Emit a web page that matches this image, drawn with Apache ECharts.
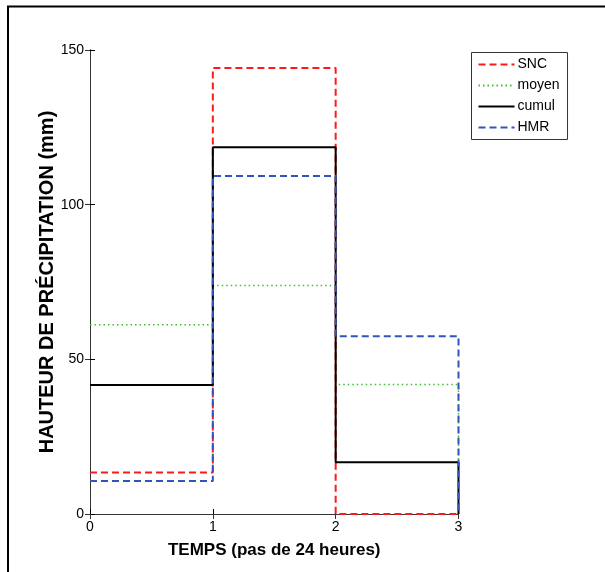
<!DOCTYPE html>
<html>
<head>
<meta charset="utf-8">
<script src="https://cdn.jsdelivr.net/npm/echarts@6/dist/echarts.min.js"></script>
<style>
html,body{margin:0;padding:0;background:#fff;}
#chart{width:605px;height:572px;}
</style>
</head>
<body>
<div id="chart"></div>
<script>
// Data (stairs: value held from step i to step i+1)
const steps = [0, 1, 2, 3];
const snc   = [13.4, 144.2, 0, 0];
const moyen = [61.2, 73.9, 41.9, 0];
const cumul = [41.7, 118.6, 16.7, 0];
const hmr   = [10.7, 109.3, 57.5, 0];
const seriesNames = ['SNC', 'moyen', 'cumul', 'HMR'];
const xTicks = [0, 1, 2, 3];
const yTicks = [0, 50, 100, 150];
const xTitle = 'TEMPS (pas de 24 heures)';
const yTitle = 'HAUTEUR DE PRÉCIPITATION (mm)';

const pairs = arr => steps.map((s, i) => [s, arr[i]]);
const FONT = '"Liberation Sans", Arial, sans-serif';

const chart = echarts.init(document.getElementById('chart'), null, {renderer: 'canvas'});

function mkSeries(name, data, color, width, dash) {
  return {
    name: name, type: 'line', step: 'end', data: pairs(data),
    symbol: 'none', showSymbol: false, animation: false,
    lineStyle: {color: color, width: width, type: dash},
    itemStyle: {color: color},
    xAxisIndex: 0, yAxisIndex: 0, z: 3
  };
}

const option = {
  animation: false,
  backgroundColor: '#fff',
  grid: {left: 90, right: 146.5, top: 50, bottom: 58, containLabel: false},
  xAxis: [
    {
      type: 'value', min: 0, max: 3, interval: 1, position: 'bottom',
      name: xTitle, nameLocation: 'middle', nameGap: 28,
      nameTextStyle: {fontFamily: FONT, fontSize: 17, fontWeight: 'bold', color: '#000'},
      axisLine: {show: true, lineStyle: {color: '#000', width: 1}},
      axisTick: {show: true, inside: true, length: 5, lineStyle: {color: '#000'}},
      axisLabel: {fontFamily: FONT, fontSize: 14, color: '#000', margin: 6,
        formatter: v => xTicks.includes(v) ? String(v) : ''},
      splitLine: {show: false}
    },
    {
      type: 'value', min: 0, max: 3, interval: 1, position: 'top',
      axisLine: {show: true, lineStyle: {color: '#333', width: 1}},
      axisTick: {show: true, inside: true, length: 5, lineStyle: {color: '#333'}},
      axisLabel: {show: false}, splitLine: {show: false}
    }
  ],
  yAxis: [
    {
      type: 'value', min: 0, max: 150, interval: 50, position: 'left',
      name: yTitle, nameLocation: 'middle', nameGap: 33, nameRotate: 90,
      nameMoveOverlap: false,
      nameTextStyle: {fontFamily: FONT, fontSize: 20, fontWeight: 'bold', color: '#000'},
      axisLine: {show: true, lineStyle: {color: '#000', width: 1}},
      axisTick: {show: true, inside: true, length: 5, lineStyle: {color: '#000'}},
      axisLabel: {fontFamily: FONT, fontSize: 14, color: '#000', margin: 6,
        formatter: v => yTicks.includes(v) ? String(v) : ''},
      splitLine: {show: false}
    },
    {
      type: 'value', min: 0, max: 150, interval: 50, position: 'right',
      axisLine: {show: true, lineStyle: {color: '#333', width: 1}},
      axisTick: {show: true, inside: true, length: 5, lineStyle: {color: '#333'}},
      axisLabel: {show: false}, splitLine: {show: false}
    }
  ],
  legend: {
    orient: 'vertical', left: 471.5, top: 52.5,
    data: seriesNames,
    itemWidth: 36, itemHeight: 14, itemGap: 7,
    padding: [5, 8, 5, 6],
    borderColor: '#333', borderWidth: 1, backgroundColor: '#fff',
    itemStyle: {opacity: 0, borderWidth: 0},
    textStyle: {fontFamily: FONT, fontSize: 14, color: '#000', padding: [0, 0, 0, -2]},
    selectedMode: false
  },
  series: [
    mkSeries('SNC', snc, '#ff1a1a', 2, [7, 4]),
    mkSeries('moyen', moyen, '#44bb33', 1.5, [1.5, 3]),
    mkSeries('cumul', cumul, '#000000', 2, 'solid'),
    mkSeries('HMR', hmr, '#3355bb', 2, [7, 4])
  ],
  graphic: [
    {type: 'polyline', shape: {points: [[8, 572], [8, 6.5], [605, 6.5]]},
     style: {stroke: '#000', lineWidth: 2, fill: null}, silent: true}
  ]
};
chart.setOption(option);
</script>
</body>
</html>
